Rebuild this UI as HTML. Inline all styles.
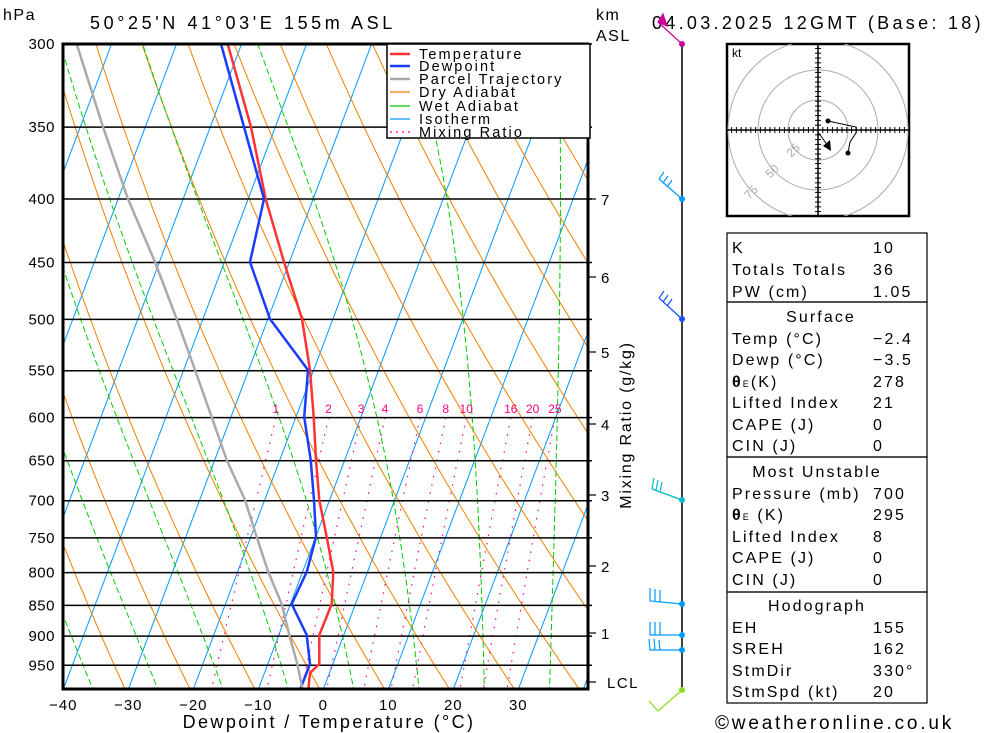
<!DOCTYPE html>
<html><head><meta charset="utf-8">
<style>
html,body{margin:0;padding:0;background:#fff;}
svg{display:block;font-family:"Liberation Sans",sans-serif;}
</style></head>
<body>
<svg id="s" width="1000" height="733" viewBox="0 0 1000 733" xmlns="http://www.w3.org/2000/svg">
<defs><clipPath id="cp"><rect x="63" y="44" width="525" height="645"/></clipPath></defs>
<g id="bg" clip-path="url(#cp)"></g>
<g id="hp" stroke="#000" stroke-width="1.5"></g>
<g id="prof" clip-path="url(#cp)" fill="none" stroke-width="2.5" stroke-linejoin="round"></g>
<rect x="63" y="44" width="525" height="645" fill="none" stroke="#000" stroke-width="3"/>
<!-- legend -->
<g>
<rect x="387" y="44" width="203" height="94" fill="#fff" stroke="#000" stroke-width="1.5"/>
<g stroke-width="2.5"><line x1="390" y1="54" x2="410" y2="54" stroke="#ff3333"/><line x1="390" y1="66" x2="410" y2="66" stroke="#1a3cff"/><line x1="390" y1="79" x2="410" y2="79" stroke="#aaaaaa"/></g>
<g stroke-width="1.2"><line x1="390" y1="92" x2="410" y2="92" stroke="#f08000"/><line x1="390" y1="106" x2="410" y2="106" stroke="#00cc00"/><line x1="390" y1="119" x2="410" y2="119" stroke="#0099ff"/><line x1="390" y1="132" x2="410" y2="132" stroke="#ff0080" stroke-dasharray="2,4"/></g>
<g font-size="14.5" letter-spacing="2.1" fill="#000">
<text x="419" y="59">Temperature</text><text x="419" y="71">Dewpoint</text><text x="419" y="84">Parcel Trajectory</text><text x="419" y="97">Dry Adiabat</text><text x="419" y="111">Wet Adiabat</text><text x="419" y="124">Isotherm</text><text x="419" y="137">Mixing Ratio</text>
</g></g>
<!-- titles -->
<g font-size="18" fill="#000">
<text x="3" y="20" font-size="16" letter-spacing="1.5">hPa</text>
<text x="90" y="29" letter-spacing="3.6">50°25'N 41°03'E 155m ASL</text>
<text x="596" y="20" font-size="16" letter-spacing="1.5">km</text>
<text x="596" y="41" font-size="16" letter-spacing="1.5">ASL</text>
<text x="652" y="29" letter-spacing="3.3">04.03.2025 12GMT (Base: 18)</text>
<text x="329" y="728" text-anchor="middle" letter-spacing="2.4">Dewpoint / Temperature (°C)</text>
<text x="715" y="729" font-size="19" letter-spacing="2.8">©weatheronline.co.uk</text>
</g>
<g id="ylab" font-size="15" fill="#000" text-anchor="end" letter-spacing="0.5"></g>
<g id="xlab" font-size="15" fill="#000" text-anchor="middle" letter-spacing="1"></g>
<text transform="translate(631,425) rotate(-90)" font-size="16" text-anchor="middle" letter-spacing="1.8" fill="#000">Mixing Ratio (g/kg)</text>
<g id="km" font-size="15" fill="#000"></g>
<!-- wind staff -->
<line x1="682" y1="44" x2="682" y2="690" stroke="#000" stroke-width="1.5"/>
<g fill="none" stroke-width="1.2">
<path d="M682 44 L658 22" stroke="#cc0099"/><path d="M658 22 L663 14 L667 26 Z" fill="#cc0099" stroke="#cc0099"/>
<path d="M682 199 L659 179 M659 179 L664 172 M663 183 L668 176 M667 187 L672 180" stroke="#0099ff"/>
<path d="M682 319 L659 298 M659 298 L664 291 M663 302 L668 295 M667 306 L672 299" stroke="#1a50ff"/>
<path d="M682 500 L652 489 M652 489 L654 478 M656 490 L658 480 M660 492 L662 482" stroke="#00bbcc"/>
<path d="M682 604 L650 601 L650 588 M655 602 L655 589 M660 602 L660 590" stroke="#0099ff"/>
<path d="M682 635 L650 635 L650 622 M655 635 L655 622 M660 635 L660 622" stroke="#0099ff"/>
<path d="M682 650 L650 650 L649 639 M655 650 L654 639 M660 650 L659 640" stroke="#0099ff"/>
<path d="M682 690 L658 711 L649 701" stroke="#88dd22"/>
</g>
<g>
<circle cx="682" cy="44" r="3" fill="#cc0099"/><circle cx="682" cy="199" r="3" fill="#0099ff"/><circle cx="682" cy="319" r="3" fill="#1a50ff"/><circle cx="682" cy="500" r="3" fill="#00bbcc"/><circle cx="682" cy="604" r="3" fill="#0099ff"/><circle cx="682" cy="635" r="3" fill="#0099ff"/><circle cx="682" cy="650" r="3" fill="#0099ff"/><circle cx="682" cy="690" r="3" fill="#88dd22"/>
</g>
<!-- hodograph -->
<g>
<rect x="727" y="44" width="182" height="172" fill="#fff" stroke="#000" stroke-width="2.5"/>
<clipPath id="hc"><rect x="727" y="44" width="182" height="172"/></clipPath>
<g clip-path="url(#hc)" fill="none" stroke="#aaa" stroke-width="1">
<circle cx="818" cy="130" r="30"/><circle cx="818" cy="130" r="60"/><circle cx="818" cy="130" r="90"/>
</g>
<g id="hodo" stroke="#000" stroke-width="1"></g>
<g fill="#aaa" font-size="12">
<text transform="translate(796,153) rotate(-45)" text-anchor="middle">25</text>
<text transform="translate(775,174) rotate(-45)" text-anchor="middle">50</text>
<text transform="translate(754,195) rotate(-45)" text-anchor="middle">75</text>
</g>
<text x="732" y="57" font-size="12" fill="#000">kt</text>
<path d="M828 121 L856 127 L856 133 L850 142 L848 153" fill="none" stroke="#000" stroke-width="1"/>
<circle cx="828" cy="121" r="2.5"/><circle cx="848" cy="153" r="2.5"/>
<path d="M818 132 L828 146" stroke="#000" stroke-width="1"/><path d="M823 146 L830 140 L831 151 Z" fill="#000"/>
</g>
<!-- table -->
<g fill="none" stroke="#000" stroke-width="1.2">
<rect x="727" y="233" width="200" height="69"/><rect x="727" y="302" width="200" height="155"/><rect x="727" y="457" width="200" height="135"/><rect x="727" y="592" width="200" height="111"/>
</g>
<g font-size="16" fill="#000" letter-spacing="2.1">
<text x="732" y="253">K</text><text x="873" y="253">10</text>
<text x="732" y="275">Totals Totals</text><text x="873" y="275">36</text>
<text x="732" y="297">PW (cm)</text><text x="873" y="297">1.05</text>
<text x="821" y="322" text-anchor="middle">Surface</text>
<text x="732" y="344">Temp (°C)</text><text x="873" y="344">−2.4</text>
<text x="732" y="365">Dewp (°C)</text><text x="873" y="365">−3.5</text>
<text x="732" y="387"><tspan font-weight="bold">θ</tspan><tspan font-size="9">E</tspan>(K)</text><text x="873" y="387">278</text>
<text x="732" y="408">Lifted Index</text><text x="873" y="408">21</text>
<text x="732" y="430">CAPE (J)</text><text x="873" y="430">0</text>
<text x="732" y="451">CIN (J)</text><text x="873" y="451">0</text>
<text x="817" y="477" text-anchor="middle">Most Unstable</text>
<text x="732" y="499">Pressure (mb)</text><text x="873" y="499">700</text>
<text x="732" y="520"><tspan font-weight="bold">θ</tspan><tspan font-size="9">E</tspan> (K)</text><text x="873" y="520">295</text>
<text x="732" y="542">Lifted Index</text><text x="873" y="542">8</text>
<text x="732" y="563">CAPE (J)</text><text x="873" y="563">0</text>
<text x="732" y="585">CIN (J)</text><text x="873" y="585">0</text>
<text x="817" y="611" text-anchor="middle">Hodograph</text>
<text x="732" y="633">EH</text><text x="873" y="633">155</text>
<text x="732" y="654">SREH</text><text x="873" y="654">162</text>
<text x="732" y="676">StmDir</text><text x="873" y="676">330°</text>
<text x="732" y="697">StmSpd (kt)</text><text x="873" y="697">20</text>
</g>
<g id="mrl" font-size="12" fill="#ff0080" text-anchor="middle"></g>
</svg>
<script>
var NS="http://www.w3.org/2000/svg";
function Y(p){return 44+539*Math.log(p/300);}
function X(T,p){return 63.3+(T+40)*6.5+0.377*(689.3-Y(p));}
function el(par,tag,a,txt){var e=document.createElementNS(NS,tag);for(var k in a)e.setAttribute(k,a[k]);if(txt!=null)e.textContent=txt;document.getElementById(par).appendChild(e);return e;}
var bg="bg";
for(var T=-140;T<=40;T+=10){el(bg,"line",{x1:X(T,994),y1:Y(994),x2:X(T,300),y2:Y(300),stroke:"#0099ff","stroke-width":1});}
for(var T0=-80;T0<=160;T0+=10){var th=T0+273.15,d="";for(var p=1000;p>=290;p-=10){var t=th*Math.pow(p/1000,0.2857)-273.15;d+=(d?"L":"M")+X(t,p).toFixed(1)+" "+Y(p).toFixed(1);}el(bg,"path",{d:d,fill:"none",stroke:"#ee8000","stroke-width":1});}
function es(t){return 6.112*Math.exp(17.67*t/(t+243.5));}
for(var T0=-95;T0<=45;T0+=10){var t=T0,d="",p=1000;d="M"+X(t,p).toFixed(1)+" "+Y(p).toFixed(1);while(p>290){var TK=t+273.15,e=es(t),rs=0.622*e/(p-e),Lv=2.5e6,Rd=287,cp=1005;var dTdp=(Rd*TK+Lv*rs)/(p*(cp+Lv*Lv*rs*0.622/(Rd*TK*TK)));t-=dTdp*5;p-=5;d+="L"+X(t,p).toFixed(1)+" "+Y(p).toFixed(1);}
el(bg,"path",{d:d,fill:"none",stroke:"#00cc00","stroke-width":1,"stroke-dasharray":"6,3"});}
var ws=[1,2,3,4,6,8,10,16,20,25];
ws.forEach(function(w){var d="";for(var p=600;p<=1000;p+=10){var e=w*p/(622+w),l=Math.log(e/6.112),td=243.5*l/(17.67-l);d+=(d?"L":"M")+X(td,p).toFixed(1)+" "+Y(p).toFixed(1);}
el(bg,"path",{d:d,fill:"none",stroke:"#ff0080","stroke-width":1.2,"stroke-dasharray":"1.5,7"});
var e=w*600/(622+w),l=Math.log(e/6.112),td=243.5*l/(17.67-l);el("mrl","text",{x:X(td,600).toFixed(1),y:413},String(w));});
for(var p=300;p<=950;p+=50){el("hp","line",{x1:63,y1:Y(p),x2:592,y2:Y(p)});el("ylab","text",{x:55,y:Y(p)+5},String(p));}
for(var T=-40;T<=30;T+=10){el("xlab","text",{x:63.3+(T+40)*6.5,y:710},T<0?"−"+(-T):String(T));}
[[7,199],[6,277],[5,352],[4,424],[3,495],[2,566],[1,633]].forEach(function(k){el("km","line",{x1:588,y1:k[1],x2:596,y2:k[1],stroke:"#000","stroke-width":1.2});el("km","text",{x:601,y:k[1]+6},String(k[0]));});
el("km","line",{x1:588,y1:682,x2:596,y2:682,stroke:"#000","stroke-width":1.2});el("km","text",{x:607,y:688,"letter-spacing":"1.5"},"LCL");
function pl(pts,c){var d="";pts.forEach(function(q){d+=(d?"L":"M")+q[0]+" "+q[1];});el("prof","path",{d:d,stroke:c});}
pl([[227.7,44],[251,127],[265.7,199],[284,262],[302,319],[310,370],[313.7,417],[316,460],[319.3,500],[326.7,537],[333.3,572],[331.7,604],[319.3,635],[319.3,664],[310,673],[308.3,690]],"#ff3333");
pl([[221,44],[244,127],[264,199],[250,262],[270,319],[308,370],[304.2,417],[310.7,460],[314,500],[316,537],[306.7,572],[291.7,604],[306.7,635],[310,664],[300,690]],"#1a3cff");
pl([[76.7,44],[103,127],[128,199],[155,262],[176.7,319],[195,370],[211.7,417],[226.7,460],[245,500],[256.7,537],[268.3,572],[281.7,604],[289.3,635],[297.3,664],[302.7,690]],"#aaaaaa");
el("hodo","line",{x1:727,y1:130,x2:909,y2:130,"stroke-width":1.5});el("hodo","line",{x1:818,y1:44,x2:818,y2:216,"stroke-width":1.5});
for(var i=-18;i<=18;i++){if(!i)continue;var o=i*4.8;el("hodo","line",{x1:818+o,y1:127,x2:818+o,y2:133});el("hodo","line",{x1:815,y1:130+o,x2:821,y2:130+o});}
</script>
</body></html>
